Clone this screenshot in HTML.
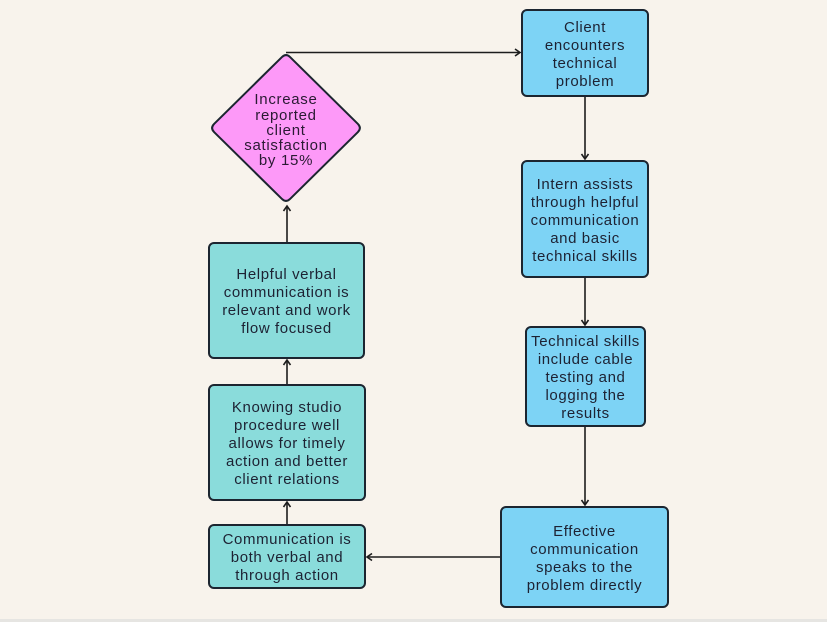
<!DOCTYPE html>
<html><head><meta charset="utf-8"><style>
html,body{margin:0;padding:0;}
body{width:827px;height:622px;background:#f8f3ec;position:relative;overflow:hidden;font-family:"Liberation Sans",sans-serif;}
.band{position:absolute;left:0;top:619px;width:827px;height:3px;background:#e6e5e2;}
svg{position:absolute;left:0;top:0;}
.t{position:absolute;display:flex;align-items:center;justify-content:center;text-align:center;font-size:15px;line-height:18px;letter-spacing:0.6px;color:#1d2233;white-space:nowrap;box-sizing:border-box;padding-top:3px;}
.d{line-height:15.2px;letter-spacing:0.7px;color:#2a1a33;padding-top:4px;}
</style></head><body>
<div class="band"></div>
<svg width="827" height="622" viewBox="0 0 827 622">
<defs>
<marker id="ah" markerWidth="10" markerHeight="10" refX="6" refY="5" orient="auto" markerUnits="userSpaceOnUse">
<path d="M1,1.5 L6,5 L1,8.5" fill="none" stroke="#1d1d1d" stroke-width="1.6"/>
</marker>
</defs>
<g fill="none" stroke="#1d1d1d" stroke-width="1.6">
<line x1="286" y1="52.5" x2="520" y2="52.5" marker-end="url(#ah)"/>
<line x1="585" y1="97" x2="585" y2="159" marker-end="url(#ah)"/>
<line x1="585" y1="278" x2="585" y2="325" marker-end="url(#ah)"/>
<line x1="585" y1="427" x2="585" y2="505" marker-end="url(#ah)"/>
<line x1="500" y1="557" x2="367" y2="557" marker-end="url(#ah)"/>
<line x1="287" y1="524" x2="287" y2="502" marker-end="url(#ah)"/>
<line x1="287" y1="384" x2="287" y2="360" marker-end="url(#ah)"/>
<line x1="287" y1="242" x2="287" y2="206" marker-end="url(#ah)"/>
</g>
<g stroke="#1c2530" stroke-width="2">
<rect x="522" y="10" width="126" height="86" rx="5" fill="#7dd3f5"/>
<rect x="522" y="161" width="126" height="116" rx="5" fill="#7dd3f5"/>
<rect x="526" y="327" width="119" height="99" rx="5" fill="#7dd3f5"/>
<rect x="501" y="507" width="167" height="100" rx="5" fill="#7dd3f5"/>
<rect x="209" y="525" width="156" height="63" rx="5" fill="#8adcdb"/>
<rect x="209" y="385" width="156" height="115" rx="5" fill="#8adcdb"/>
<rect x="209" y="243" width="155" height="115" rx="5" fill="#8adcdb"/>
<path d="M290.2,57.2 L357.8,123.8 Q362,128 357.8,132.2 L290.2,198.8 Q286,203 281.8,198.8 L214.2,132.2 Q210,128 214.2,123.8 L281.8,57.2 Q286,53 290.2,57.2 Z" fill="#fd99f8"/>
</g>
</svg>
<div class="t" style="left:521px;top:9px;width:128px;height:88px;">Client<br>encounters<br>technical<br>problem</div>
<div class="t" style="left:521px;top:160px;width:128px;height:118px;">Intern assists<br>through helpful<br>communication<br>and basic<br>technical skills</div>
<div class="t" style="left:525px;top:326px;width:121px;height:101px;">Technical skills<br>include cable<br>testing and<br>logging the<br>results</div>
<div class="t" style="left:500px;top:506px;width:169px;height:102px;">Effective<br>communication<br>speaks to the<br>problem directly</div>
<div class="t" style="left:208px;top:524px;width:158px;height:65px;">Communication is<br>both verbal and<br>through action</div>
<div class="t" style="left:208px;top:384px;width:158px;height:117px;">Knowing studio<br>procedure well<br>allows for timely<br>action and better<br>client relations</div>
<div class="t" style="left:208px;top:242px;width:157px;height:117px;">Helpful verbal<br>communication is<br>relevant and work<br>flow focused</div>
<div class="t d" style="left:210px;top:52px;width:152px;height:153px;">Increase<br>reported<br>client<br>satisfaction<br>by 15%</div>
</body></html>
